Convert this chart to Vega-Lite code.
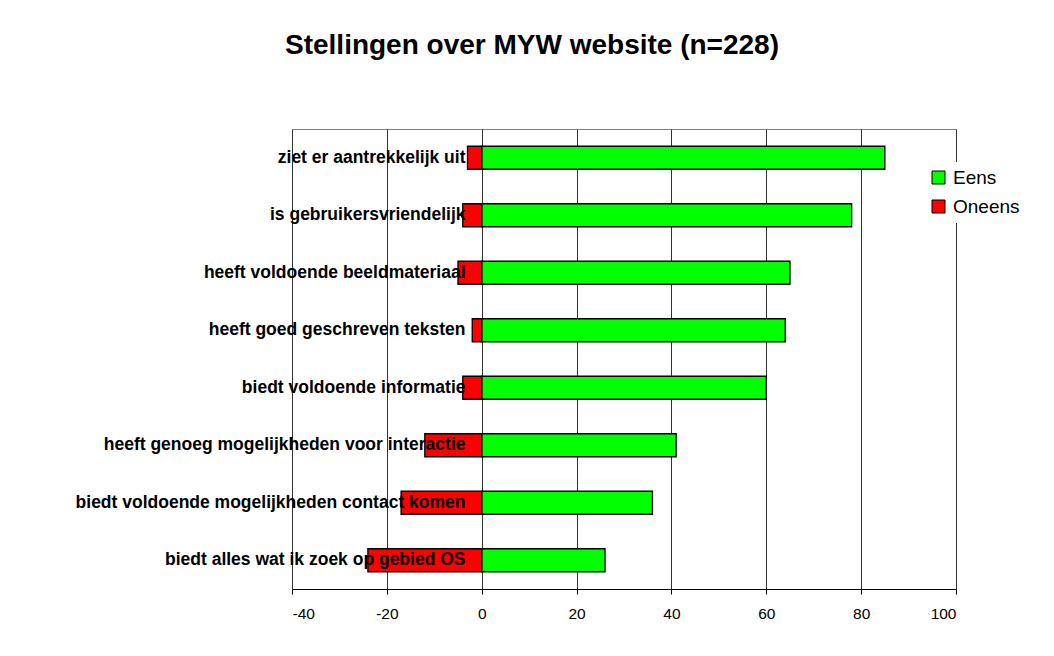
{
  "$schema": "https://vega.github.io/schema/vega-lite/v6.json",
  "autosize": "none",
  "width": 664,
  "height": 460,
  "padding": {"left": 292, "top": 129, "right": 98, "bottom": 67},
  "background": "white",
  "title": {
    "text": "Stellingen over MYW website (n=228)",
    "font": "Liberation Sans",
    "fontSize": 28,
    "fontWeight": "bold",
    "color": "black",
    "anchor": "middle",
    "dx": -92,
    "baseline": "alphabetic",
    "offset": 47
  },
  "data": {
    "values": [
      {"stelling": "ziet er aantrekkelijk uit", "reeks": "Eens", "waarde": 85},
      {"stelling": "ziet er aantrekkelijk uit", "reeks": "Oneens", "waarde": -3},
      {"stelling": "is gebruikersvriendelijk", "reeks": "Eens", "waarde": 78},
      {"stelling": "is gebruikersvriendelijk", "reeks": "Oneens", "waarde": -4},
      {"stelling": "heeft voldoende beeldmateriaal", "reeks": "Eens", "waarde": 65},
      {"stelling": "heeft voldoende beeldmateriaal", "reeks": "Oneens", "waarde": -5},
      {"stelling": "heeft goed geschreven teksten", "reeks": "Eens", "waarde": 64},
      {"stelling": "heeft goed geschreven teksten", "reeks": "Oneens", "waarde": -2},
      {"stelling": "biedt voldoende informatie", "reeks": "Eens", "waarde": 60},
      {"stelling": "biedt voldoende informatie", "reeks": "Oneens", "waarde": -4},
      {"stelling": "heeft genoeg mogelijkheden voor interactie", "reeks": "Eens", "waarde": 41},
      {"stelling": "heeft genoeg mogelijkheden voor interactie", "reeks": "Oneens", "waarde": -12},
      {"stelling": "biedt voldoende mogelijkheden contact komen", "reeks": "Eens", "waarde": 36},
      {"stelling": "biedt voldoende mogelijkheden contact komen", "reeks": "Oneens", "waarde": -17},
      {"stelling": "biedt alles wat ik zoek op gebied OS", "reeks": "Eens", "waarde": 26},
      {"stelling": "biedt alles wat ik zoek op gebied OS", "reeks": "Oneens", "waarde": -24}
    ]
  },
  "mark": {"type": "bar", "stroke": "black", "strokeWidth": 1.3},
  "encoding": {
    "y": {
      "field": "stelling",
      "type": "nominal",
      "sort": null,
      "scale": {"paddingInner": 0.6, "paddingOuter": 0.3},
      "axis": {
        "title": null,
        "domain": false,
        "ticks": false,
        "tickSize": 0,
        "labelAlign": "right",
        "labelPadding": -173,
        "labelFont": "Liberation Sans",
        "labelFontWeight": "bold",
        "labelFontSize": 17.5,
        "labelColor": "black",
        "labelLimit": 0,
        "zindex": 1
      }
    },
    "x": {
      "field": "waarde",
      "type": "quantitative",
      "stack": null,
      "scale": {"domain": [-40, 100], "nice": false, "zero": false},
      "axis": {
        "title": null,
        "values": [-40, -20, 0, 20, 40, 60, 80, 100],
        "labelExpr": "'' + datum.value",
        "grid": true,
        "gridColor": "#333333",
        "gridOpacity": 1,
        "gridWidth": 1,
        "domainColor": "black",
        "domainWidth": 1,
        "tickColor": "black",
        "tickSize": 5,
        "labelFont": "Liberation Sans",
        "labelFontSize": 15.5,
        "labelColor": "black",
        "labelPadding": 12,
        "zindex": 0
      }
    },
    "color": {
      "field": "reeks",
      "type": "nominal",
      "scale": {"domain": ["Eens", "Oneens"], "range": ["#00FF00", "#FF0000"]},
      "legend": {
        "title": null,
        "orient": "none",
        "legendX": 631,
        "legendY": 33,
        "padding": 6,
        "fillColor": "white",
        "symbolType": "square",
        "symbolSize": 169,
        "symbolStrokeColor": "black",
        "symbolStrokeWidth": 1,
        "symbolOpacity": 1,
        "labelFont": "Liberation Sans",
        "labelFontSize": 19,
        "labelColor": "black",
        "labelOffset": 5,
        "rowPadding": 9
      }
    }
  },
  "config": {
    "view": {"stroke": "#808080", "strokeWidth": 1}
  }
}
